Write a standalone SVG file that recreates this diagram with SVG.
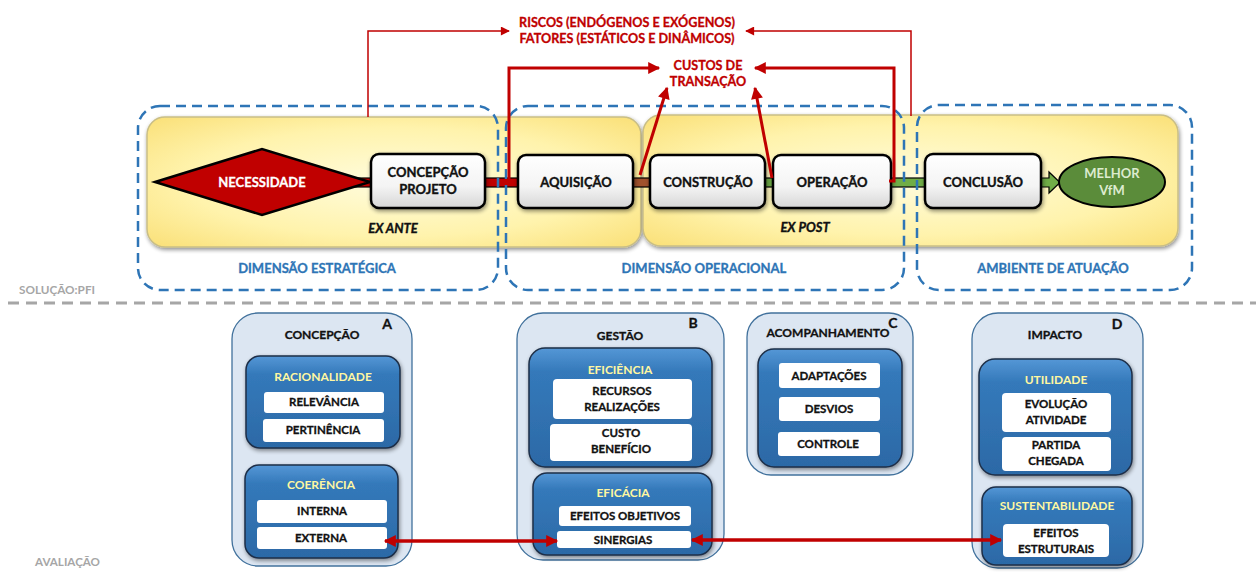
<svg xmlns="http://www.w3.org/2000/svg" width="1260" height="578" viewBox="0 0 1260 578">
  <defs>
    <radialGradient id="gYellow" cx="0.5" cy="0.5" r="0.7">
      <stop offset="0" stop-color="#FFFCDD"/>
      <stop offset="0.6" stop-color="#FFF3AC"/>
      <stop offset="1" stop-color="#FAE078"/>
    </radialGradient>
    <linearGradient id="gProc" x1="0" y1="0" x2="0" y2="1">
      <stop offset="0" stop-color="#FFFFFF"/>
      <stop offset="0.6" stop-color="#F4F4F4"/>
      <stop offset="1" stop-color="#D6D6D6"/>
    </linearGradient>
    <linearGradient id="gBlue" x1="0" y1="0" x2="0" y2="1">
      <stop offset="0" stop-color="#5597D6"/>
      <stop offset="0.2" stop-color="#3479BA"/>
      <stop offset="1" stop-color="#2C69A6"/>
    </linearGradient>
    <filter id="shadow" x="-10%" y="-10%" width="120%" height="130%">
      <feGaussianBlur in="SourceAlpha" stdDeviation="2"/>
      <feOffset dx="1" dy="2" result="o"/>
      <feComponentTransfer><feFuncA type="linear" slope="0.45"/></feComponentTransfer>
      <feMerge><feMergeNode/><feMergeNode in="SourceGraphic"/></feMerge>
    </filter>
    <marker id="arrRedS" viewBox="0 0 10 10" refX="9" refY="5" markerWidth="10" markerHeight="9" orient="auto-start-reverse" markerUnits="userSpaceOnUse">
      <path d="M0,0 L10,5 L0,10 z" fill="#C00000"/>
    </marker>
    <marker id="arrRedB" viewBox="0 0 10 10" refX="9" refY="5" markerWidth="14" markerHeight="12" orient="auto-start-reverse" markerUnits="userSpaceOnUse">
      <path d="M0,0 L10,5 L0,10 z" fill="#C00000"/>
    </marker>
  </defs>
  <style>
    text { font-family: Lato, "Liberation Sans", sans-serif; font-weight: bold; text-anchor: middle; }
    .panel { fill: url(#gYellow); stroke: #C9BE86; stroke-width: 1.5; filter: url(#shadow); }
    .zone { fill: none; stroke: #2E75B6; stroke-width: 2.5; stroke-dasharray: 10 6; }
    .zoneLbl { fill: #2E75B6; stroke: #2E75B6; stroke-width: 0.3; font-size: 13px; }
    .proc { fill: url(#gProc); stroke: #000; stroke-width: 2.5; filter: url(#shadow); }
    .procTxt { fill: #111; stroke: #111; stroke-width: 0.35; font-size: 13px; }
    .redTxt { fill: #C00000; stroke: #C00000; stroke-width: 0.3; font-size: 12.6px; }
    .italic { font-style: italic; fill: #111; stroke: #111; stroke-width: 0.35; font-size: 13px; }
    .grayTxt { fill: #A6A6A6; font-size: 12px; text-anchor: start; }
    .outer { fill: #DCE6F2; stroke: #41719C; stroke-width: 1.3; }
    .inner { fill: url(#gBlue); stroke: #1E2F48; stroke-width: 1.5; filter: url(#shadow); }
    .item { fill: #FFFFFF; }
    .hdr { fill: #111; stroke: #111; stroke-width: 0.3; font-size: 12px; }
    .ttl { fill: #FFF7A1; font-size: 12px; }
    .itemTxt { fill: #111; stroke: #111; stroke-width: 0.3; font-size: 11.5px; }
    .letter { fill: #111; stroke: #111; stroke-width: 0.3; font-size: 14px; }
    .thin { fill: none; stroke: #C00000; stroke-width: 1.5; }
    .thick { fill: none; stroke: #C00000; stroke-width: 3; }
    .link { fill: none; stroke: #C00000; stroke-width: 3.5; }
  </style>

  <!-- divider between solution and evaluation -->
  <line x1="8" y1="303" x2="1256" y2="303" stroke="#A6A6A6" stroke-width="3" stroke-dasharray="11 7"/>
  <text class="grayTxt" x="19" y="294" textLength="76" lengthAdjust="spacingAndGlyphs">SOLUÇÃO:PFI</text>
  <text class="grayTxt" x="35" y="566" textLength="65" lengthAdjust="spacingAndGlyphs">AVALIAÇÃO</text>

  <!-- yellow phase panels -->
  <g id="panel-exante">
    <rect class="panel" x="147" y="117" width="494" height="130" rx="18"/>
    <text class="italic" x="393" y="233">EX ANTE</text>
  </g>
  <g id="panel-expost">
    <rect class="panel" x="643" y="115" width="535" height="131" rx="18"/>
    <text class="italic" x="805" y="232">EX POST</text>
  </g>

  <!-- bars joining the chain -->
  <g id="chain-bars" stroke="#000" stroke-width="1.2">
    <rect x="300" y="178" width="220" height="9" fill="#C00000"/>
    <rect x="631" y="178" width="21" height="9" fill="#A0522D"/>
    <rect x="763" y="178" width="12" height="9" fill="#70AD47"/>
    <rect x="889" y="178" width="38" height="9" fill="#70AD47"/>
    <path d="M1039,178 H1049 V172 L1060,182.5 L1049,193 V187 H1039 Z" fill="#70AD47"/>
  </g>

  <!-- chain nodes -->
  <g id="node-necessidade">
    <polygon points="155,182 262,149 370,182 262,215" fill="#C00000" stroke="#000" stroke-width="2.5"/>
    <text x="262" y="187" fill="#FFFFFF" stroke="#FFFFFF" stroke-width="0.3" font-size="13">NECESSIDADE</text>
  </g>
  <g id="node-concepcao-projeto">
    <rect class="proc" x="371" y="154" width="114" height="54" rx="8"/>
    <text class="procTxt" x="428" y="177">CONCEPÇÃO</text>
    <text class="procTxt" x="428" y="194">PROJETO</text>
  </g>
  <g id="node-aquisicao">
    <rect class="proc" x="518" y="155" width="115" height="53" rx="8"/>
    <text class="procTxt" x="576" y="187">AQUISIÇÃO</text>
  </g>
  <g id="node-construcao">
    <rect class="proc" x="650" y="155" width="115" height="53" rx="8"/>
    <text class="procTxt" x="708" y="187">CONSTRUÇÃO</text>
  </g>
  <g id="node-operacao">
    <rect class="proc" x="773" y="155" width="118" height="53" rx="8"/>
    <text class="procTxt" x="832" y="187">OPERAÇÃO</text>
  </g>
  <g id="node-conclusao">
    <rect class="proc" x="925" y="154" width="116" height="54" rx="8"/>
    <text class="procTxt" x="983" y="187">CONCLUSÃO</text>
  </g>
  <g id="node-vfm">
    <ellipse cx="1112" cy="182" rx="53" ry="25" fill="#5B8C3A" stroke="#000" stroke-width="2"/>
    <text x="1112" y="178" fill="#DDEBCF" font-size="13">MELHOR</text>
    <text x="1112" y="195" fill="#DDEBCF" font-size="13">VfM</text>
  </g>

  <!-- dashed dimension zones -->
  <g id="zone-estrategica">
    <rect class="zone" x="138" y="106" width="360" height="184" rx="22"/>
    <text class="zoneLbl" x="317" y="273">DIMENSÃO ESTRATÉGICA</text>
  </g>
  <g id="zone-operacional">
    <rect class="zone" x="506" y="106" width="398" height="184" rx="22"/>
    <text class="zoneLbl" x="704" y="273">DIMENSÃO OPERACIONAL</text>
  </g>
  <g id="zone-ambiente">
    <rect class="zone" x="917" y="105" width="275" height="185" rx="22"/>
    <text class="zoneLbl" x="1053" y="273">AMBIENTE DE ATUAÇÃO</text>
  </g>

  <!-- risk and cost labels -->
  <g id="label-riscos">
    <text class="redTxt" x="627" y="27">RISCOS (ENDÓGENOS E EXÓGENOS)</text>
    <text class="redTxt" x="627" y="43">FATORES (ESTÁTICOS E DINÂMICOS)</text>
  </g>
  <g id="label-custos">
    <text class="redTxt" x="708" y="70">CUSTOS DE</text>
    <text class="redTxt" x="708" y="86">TRANSAÇÃO</text>
  </g>

  <!-- connectors -->
  <g id="connectors">
    <path class="thin" d="M368,117 V31 H509" marker-end="url(#arrRedS)"/>
    <path class="thin" d="M911,116 V31 H746" marker-end="url(#arrRedS)"/>
    <path class="thick" d="M509,180 V68 H659" marker-end="url(#arrRedB)"/>
    <path class="thick" d="M889,181 H894 V68 H755" marker-end="url(#arrRedB)"/>
    <path class="thick" d="M640,175 L667,88" marker-end="url(#arrRedB)"/>
    <path class="thick" d="M772,178 L755,88" marker-end="url(#arrRedB)"/>
  </g>

  <!-- A: concepção -->
  <g id="group-a">
    <rect class="outer" x="232" y="313" width="180" height="253" rx="26"/>
    <text class="hdr" x="322" y="339">CONCEPÇÃO</text>
    <text class="letter" x="387" y="329">A</text>
    <rect class="inner" x="246" y="356" width="154" height="92" rx="14"/>
    <text class="ttl" x="323" y="381">RACIONALIDADE</text>
    <rect class="item" x="264" y="392" width="120" height="21" rx="3"/>
    <text class="itemTxt" x="324" y="406">RELEVÂNCIA</text>
    <rect class="item" x="263" y="419" width="121" height="23" rx="3"/>
    <text class="itemTxt" x="323" y="434">PERTINÊNCIA</text>
    <rect class="inner" x="245" y="465" width="153" height="93" rx="14"/>
    <text class="ttl" x="321" y="489">COERÊNCIA</text>
    <rect class="item" x="257" y="500" width="130" height="23" rx="3"/>
    <text class="itemTxt" x="322" y="515">INTERNA</text>
    <rect class="item" x="257" y="527" width="130" height="22" rx="3"/>
    <text class="itemTxt" x="321" y="542">EXTERNA</text>
  </g>

  <!-- B: gestão -->
  <g id="group-b">
    <rect class="outer" x="517" y="313" width="207" height="247" rx="26"/>
    <text class="hdr" x="620" y="340">GESTÃO</text>
    <text class="letter" x="693" y="328">B</text>
    <rect class="inner" x="529" y="348" width="183" height="119" rx="16"/>
    <text class="ttl" x="620" y="374">EFICIÊNCIA</text>
    <rect class="item" x="553" y="379" width="139" height="40" rx="4"/>
    <text class="itemTxt" x="622" y="395">RECURSOS</text>
    <text class="itemTxt" x="622" y="411">REALIZAÇÕES</text>
    <rect class="item" x="550" y="424" width="142" height="37" rx="4"/>
    <text class="itemTxt" x="621" y="437">CUSTO</text>
    <text class="itemTxt" x="621" y="453">BENEFÍCIO</text>
    <rect class="inner" x="533" y="473" width="179" height="82" rx="14"/>
    <text class="ttl" x="623" y="497">EFICÁCIA</text>
    <rect class="item" x="559" y="506" width="132" height="20" rx="3"/>
    <text class="itemTxt" x="625" y="520">EFEITOS OBJETIVOS</text>
    <rect class="item" x="557" y="531" width="134" height="17" rx="3"/>
    <text class="itemTxt" x="623" y="544">SINERGIAS</text>
  </g>

  <!-- C: acompanhamento -->
  <g id="group-c">
    <rect class="outer" x="747" y="313" width="166" height="162" rx="24"/>
    <text class="hdr" x="828" y="337">ACOMPANHAMENTO</text>
    <text class="letter" x="893" y="328">C</text>
    <rect class="inner" x="758" y="349" width="144" height="118" rx="16"/>
    <rect class="item" x="779" y="363" width="101" height="25" rx="3"/>
    <text class="itemTxt" x="829" y="380">ADAPTAÇÕES</text>
    <rect class="item" x="779" y="397" width="101" height="24" rx="3"/>
    <text class="itemTxt" x="829" y="413">DESVIOS</text>
    <rect class="item" x="778" y="432" width="102" height="24" rx="3"/>
    <text class="itemTxt" x="828" y="448">CONTROLE</text>
  </g>

  <!-- D: impacto -->
  <g id="group-d">
    <rect class="outer" x="972" y="313" width="171" height="255" rx="26"/>
    <text class="hdr" x="1055" y="339">IMPACTO</text>
    <text class="letter" x="1117" y="329">D</text>
    <rect class="inner" x="979" y="359" width="153" height="116" rx="16"/>
    <text class="ttl" x="1056" y="384">UTILIDADE</text>
    <rect class="item" x="1002" y="393" width="109" height="39" rx="4"/>
    <text class="itemTxt" x="1056" y="408">EVOLUÇÃO</text>
    <text class="itemTxt" x="1056" y="424">ATIVIDADE</text>
    <rect class="item" x="1002" y="437" width="109" height="34" rx="4"/>
    <text class="itemTxt" x="1056" y="449">PARTIDA</text>
    <text class="itemTxt" x="1056" y="465">CHEGADA</text>
    <rect class="inner" x="982" y="487" width="150" height="78" rx="14"/>
    <text class="ttl" x="1057" y="510">SUSTENTABILIDADE</text>
    <rect class="item" x="1003" y="524" width="106" height="33" rx="4"/>
    <text class="itemTxt" x="1056" y="537">EFEITOS</text>
    <text class="itemTxt" x="1056" y="553">ESTRUTURAIS</text>
  </g>

  <!-- evaluation links -->
  <g id="eval-links">
    <path class="link" d="M385,541 H557" marker-start="url(#arrRedB)" marker-end="url(#arrRedB)"/>
    <path class="link" d="M692,540 H1001" marker-start="url(#arrRedB)" marker-end="url(#arrRedB)"/>
  </g>
</svg>
